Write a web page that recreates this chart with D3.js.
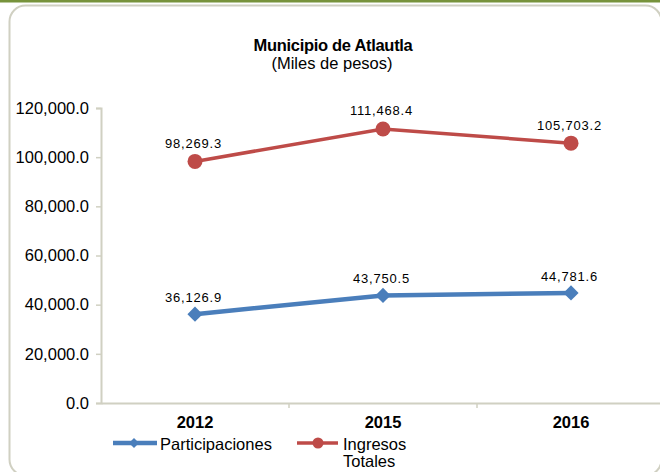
<!DOCTYPE html>
<html>
<head>
<meta charset="utf-8">
<script src="https://cdn.jsdelivr.net/npm/d3@7"></script>
<style>
  body { margin: 0; background: #fff; }
  svg { display: block; font-family: "Liberation Sans", Arial, sans-serif; }
</style>
</head>
<body>
<svg width="660" height="472"></svg>
<script>
// chart data
var years = ["2012", "2015", "2016"];
var participaciones = [36126.9, 43750.5, 44781.6];
var ingresosTotales = [98269.3, 111468.4, 105703.2];
var yTicks = [0, 20000, 40000, 60000, 80000, 100000, 120000];

var svg = d3.select("svg"),
    width = +svg.attr("width"),
    height = +svg.attr("height");

var blue = "#4A7EBB", red = "#BE4B48", axisColor = "#D0D0C2";
var font = "Liberation Sans, Arial, sans-serif";

// outer frame
svg.append("rect").attr("x", 0).attr("y", 0).attr("width", width).attr("height", 2.5)
  .attr("fill", "#77933C");
svg.append("rect").attr("x", 9.5).attr("y", 5.5).attr("width", 652).attr("height", 470)
  .attr("rx", 16).attr("fill", "none").attr("stroke", axisColor).attr("stroke-width", 2);

// title
svg.append("text").attr("x", 333).attr("y", 51).attr("text-anchor", "middle")
  .attr("font-size", 16.5).attr("font-weight", "bold").attr("letter-spacing", -0.3)
  .text("Municipio de Atlautla");
svg.append("text").attr("x", 332).attr("y", 69).attr("text-anchor", "middle")
  .attr("font-size", 16.5).text("(Miles de pesos)");

var x = d3.scaleBand().domain(years).range([101, 665]);
var y = d3.scaleLinear().domain([0, 120000]).range([403, 108]);

// y axis
var yAxis = svg.append("g").attr("transform", "translate(101,0)")
  .call(d3.axisLeft(y).tickValues(yTicks).tickSize(5).tickPadding(7)
    .tickFormat(function(d) { return d3.format(",.1f")(d); }));
yAxis.select(".domain").attr("stroke", axisColor).attr("stroke-width", 2);
yAxis.selectAll(".tick line").attr("stroke", axisColor).attr("stroke-width", 1.5);
yAxis.selectAll("text").attr("font-size", 16.5).attr("fill", "#000").attr("font-family", font);

// x axis
var xAxis = svg.append("g").attr("transform", "translate(0,403)")
  .call(d3.axisBottom(x).tickSize(0).tickPadding(13));
xAxis.select(".domain").attr("stroke", axisColor).attr("stroke-width", 2);
xAxis.selectAll("text").attr("font-size", 16.5).attr("font-weight", "bold").attr("fill", "#000")
  .attr("font-family", font);
// category separators
svg.append("g").selectAll("line")
  .data(years.slice(1))
  .enter().append("line")
  .attr("x1", function(d) { return x(d); })
  .attr("x2", function(d) { return x(d); })
  .attr("y1", 403).attr("y2", 408)
  .attr("stroke", axisColor).attr("stroke-width", 1.5);

function cx(i) { return x(years[i]) + x.bandwidth() / 2; }

var line = d3.line()
  .x(function(d, i) { return cx(i); })
  .y(function(d) { return y(d); });

var diamond = d3.symbol().type(d3.symbolSquare).size(115);

// Ingresos Totales
svg.append("path").datum(ingresosTotales).attr("d", line)
  .attr("fill", "none").attr("stroke", red).attr("stroke-width", 3.5);
svg.append("g").selectAll("circle")
  .data(ingresosTotales)
  .enter().append("circle")
  .attr("cx", function(d, i) { return cx(i); })
  .attr("cy", function(d) { return y(d); })
  .attr("r", 7.5).attr("fill", red);

// Participaciones
svg.append("path").datum(participaciones).attr("d", line)
  .attr("fill", "none").attr("stroke", blue).attr("stroke-width", 4.5);
svg.append("g").selectAll("path")
  .data(participaciones)
  .enter().append("path")
  .attr("d", diamond)
  .attr("transform", function(d, i) { return "translate(" + cx(i) + "," + y(d) + ") rotate(45)"; })
  .attr("fill", blue);

// data labels
function addLabels(values, offset) {
  svg.append("g").selectAll("text")
    .data(values)
    .enter().append("text")
    .attr("x", function(d, i) { return cx(i) - 1.5; })
    .attr("y", function(d) { return y(d) - offset; })
    .attr("text-anchor", "middle").attr("font-size", 13).attr("letter-spacing", 0.8)
    .text(function(d) { return d3.format(",.1f")(d); });
}
addLabels(ingresosTotales, 13.5);
addLabels(participaciones, 12);

// legend
var legend = svg.append("g");
legend.append("line").attr("x1", 113).attr("x2", 157).attr("y1", 443).attr("y2", 443)
  .attr("stroke", blue).attr("stroke-width", 4.5);
legend.append("path").attr("d", d3.symbol().type(d3.symbolSquare).size(50))
  .attr("transform", "translate(134,443) rotate(45)").attr("fill", blue);
legend.append("text").attr("x", 160).attr("y", 449.5).attr("font-size", 16.5).text("Participaciones");

legend.append("line").attr("x1", 297).attr("x2", 338).attr("y1", 443).attr("y2", 443)
  .attr("stroke", red).attr("stroke-width", 3.5);
legend.append("circle").attr("cx", 318).attr("cy", 443).attr("r", 5.5).attr("fill", red);
legend.append("text").attr("x", 343).attr("y", 449.5).attr("font-size", 16.5).text("Ingresos");
legend.append("text").attr("x", 343).attr("y", 467).attr("font-size", 16.5).text("Totales");
</script>
</body>
</html>
